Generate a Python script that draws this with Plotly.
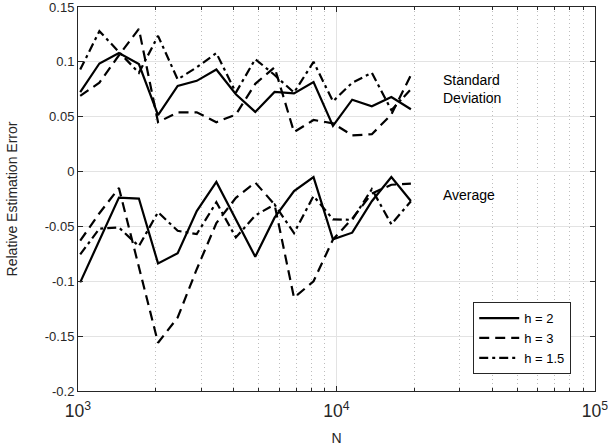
import plotly.graph_objects as go

# Sample sizes N
N = [1020, 1210, 1440, 1720, 2040, 2430, 2880, 3430, 4080, 4850,
     5760, 6850, 8150, 9690, 11500, 13700, 16300, 19400]

# Standard deviation of relative estimation error
std_h2 = [0.0725, 0.0985, 0.108, 0.098, 0.0515, 0.078, 0.0827, 0.093, 0.0705, 0.0544,
          0.0726, 0.0712, 0.0815, 0.0416, 0.0655, 0.0595, 0.068, 0.0568]
std_h3 = [0.069, 0.081, 0.106, 0.130, 0.045, 0.054, 0.054, 0.045, 0.052, 0.080,
          0.095, 0.036, 0.047, 0.044, 0.033, 0.034, 0.052, 0.088]
std_h15 = [0.093, 0.128, 0.109, 0.090, 0.1237, 0.084, 0.095, 0.108, 0.072, 0.1025,
           0.088, 0.072, 0.100, 0.064, 0.081, 0.090, 0.056, 0.075]

# Average relative estimation error
avg_h2 = [-0.101, -0.062, -0.0237, -0.0246, -0.0837, -0.0745, -0.036, -0.0095, -0.043, -0.0776,
          -0.042, -0.0177, -0.005, -0.0618, -0.0557, -0.027, -0.0049, -0.0268]
avg_h3 = [-0.063, -0.038, -0.015, -0.088, -0.156, -0.133, -0.089, -0.047, -0.024, -0.010,
          -0.030, -0.115, -0.100, -0.062, -0.043, -0.020, -0.012, -0.011]
avg_h15 = [-0.0755, -0.052, -0.051, -0.068, -0.037, -0.054, -0.057, -0.028, -0.060, -0.040,
           -0.030, -0.056, -0.0223, -0.0435, -0.044, -0.016, -0.048, -0.027]

labels = ["h = 2", "h = 3", "h = 1.5"]
dashes = ["solid", "10px,6px", "9px,4px,3px,4px"]

y_ticks = [0.15, 0.1, 0.05, 0, -0.05, -0.1, -0.15, -0.2]
y_tick_text = ["0.15", "0.1", "0.05", "0", "-0.05", "-0.1", "-0.15", "-0.2"]

fig = go.Figure()
avg_series = [avg_h2, avg_h3, avg_h15]
std_series = [std_h2, std_h3, std_h15]
for lab, d, s in zip(labels, dashes, std_series):
    fig.add_trace(go.Scatter(x=N, y=s, mode="lines", name=lab, showlegend=False,
                             line=dict(color="black", width=2.2, dash=d)))
for lab, d, a in zip(labels, dashes, avg_series):
    fig.add_trace(go.Scatter(x=N, y=a, mode="lines", name=lab, showlegend=True,
                             line=dict(color="black", width=2.2, dash=d)))

font = "Liberation Sans, Arial, Helvetica, sans-serif"
axcol = "#262626"

fig.update_layout(
    width=608, height=448,
    margin=dict(l=78, r=13, t=7, b=57),
    paper_bgcolor="white", plot_bgcolor="white",
    font=dict(family=font, size=13, color=axcol),
    legend=dict(x=0.954, y=0.044, xanchor="right", yanchor="bottom",
                bgcolor="white", bordercolor=axcol, borderwidth=1,
                font=dict(size=13, color="black"), tracegroupgap=0,
                itemwidth=40),
    xaxis=dict(type="log", range=[3, 5], dtick=1, exponentformat="power",
               automargin=False, ticklabeloverflow="allow",
               showline=True, linecolor=axcol, linewidth=1, mirror="ticks",
               ticks="inside", ticklen=5, tickcolor=axcol,
               showgrid=True, gridcolor="#e3e3e3", gridwidth=1,
               minor=dict(dtick="D1", showgrid=True, griddash="1px,3px",
                          gridcolor="#bdbdbd", gridwidth=1, ticks="inside", ticklen=3,
                          tickcolor=axcol),
               title=dict(text="N", standoff=12, font=dict(size=14)),
               zeroline=False, tickfont=dict(size=14), ticklabelstandoff=5),
    yaxis=dict(range=[-0.2, 0.15000001], tickvals=y_ticks, ticktext=y_tick_text,
               automargin=False, ticklabeloverflow="allow",
               showline=True, linecolor=axcol, linewidth=1, mirror="ticks",
               ticks="inside", ticklen=5, tickcolor=axcol,
               showgrid=True, gridcolor="#e3e3e3", gridwidth=1,
               zeroline=False, tickfont=dict(size=13),
               title=dict(text="Relative Estimation Error", standoff=23, font=dict(size=14))),
)

fig.add_annotation(x=4.4027, y=0.0755, xref="x", yref="y", xanchor="left",
                   text="Standard<br>Deviation", showarrow=False, align="left",
                   font=dict(size=14, color="black"))
fig.add_annotation(x=4.4027, y=-0.0213, xref="x", yref="y", xanchor="left",
                   text="Average", showarrow=False, align="left",
                   font=dict(size=14, color="black"))

fig.write_html("out.html")
